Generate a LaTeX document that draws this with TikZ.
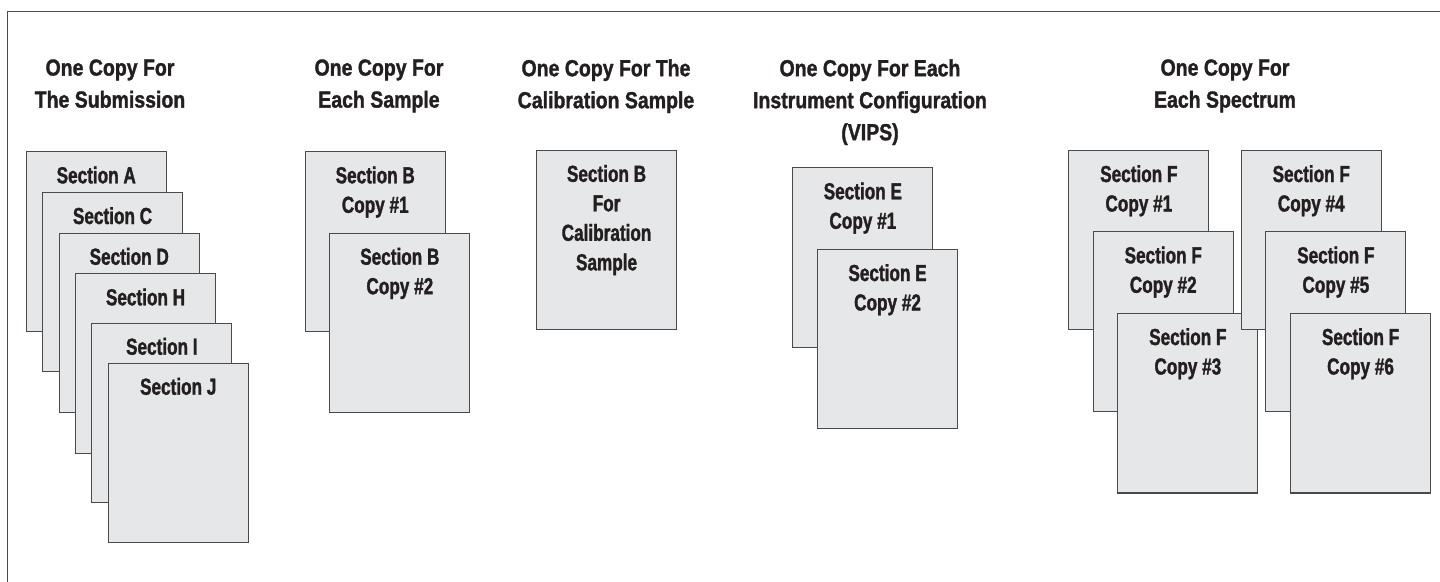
\documentclass[tikz,border=0pt]{standalone}
\usepackage{fontspec}
\usepackage{xcolor}
\usepackage{tikz}
\newfontfamily\pagefont{Liberation Sans}[FakeStretch=0.74, FakeBold=1.4]
\newfontfamily\headfont{Liberation Sans}[FakeStretch=0.84, FakeBold=1.4]
\definecolor{pagefill}{HTML}{E6E7E8}
\definecolor{pageline}{HTML}{4A4A4A}
\definecolor{ink}{HTML}{231F20}
\tikzset{
    page/.style={draw=pageline, fill=pagefill, line width=0.55pt,
                 minimum width=70pt, minimum height=89.7pt,
                 anchor=north west, inner sep=0pt},
    pagetext/.style={anchor=north, inner sep=0pt, yshift=-7.4pt, align=center,
                     text=ink, font=\pagefont\bfseries\fontsize{11.6}{14.75}\selectfont},
    heading/.style={anchor=north, inner sep=0pt, align=center,
                    text=ink, font=\headfont\bfseries\fontsize{11.6}{16}\selectfont},
}

\begin{document}
\begin{tikzpicture}[x=0.5pt, y=-0.5pt]
    \useasboundingbox (0,0) rectangle (1440,582);
    \clip (0,0) rectangle (1440,582);

    % Frame
    \draw[line width=0.7pt, pageline] (7.5,11.5) rectangle (1470,620);

    % Headings
    \node[heading] (h1) at (110,59) {One Copy For\\The Submission};
    \node[heading] (h2) at (379,59) {One Copy For\\Each Sample};
    \node[heading] (h3) at (606,59) {One Copy For The\\Calibration Sample};
    \node[heading] (h4) at (870,59) {One Copy For Each\\Instrument Configuration\\(VIPS)};
    \node[heading] (h5) at (1225,59) {One Copy For\\Each Spectrum};

    % Submission stack
    \foreach \nm/\px/\py/\sec in {sa/25.7/151.3/A, sc/42/192/C, sd/58.7/232.7/D,
                                  sh/75/273.3/H, si/91.3/322.7/I, sj/107.7/362.7/J} {
        \node[page] (\nm) at (\px,\py) {};
        \node[pagetext] (\nm-t) at (\nm.north) {Section \sec};
    }

    % Sample copies
    \foreach \nm/\px/\py/\n in {b1/304.7/151.3/1, b2/329.3/232.7/2} {
        \node[page] (\nm) at (\px,\py) {};
        \node[pagetext] (\nm-t) at (\nm.north) {Section B\\Copy \#\n};
    }

    % Calibration sample
    \node[page] (cal) at (536,149.8) {};
    \node[pagetext] (cal-t) at (cal.north) {Section B\\For\\Calibration\\Sample};

    % Instrument configurations
    \foreach \nm/\px/\py/\n in {e1/792.3/167.3/1, e2/817/249/2} {
        \node[page] (\nm) at (\px,\py) {};
        \node[pagetext] (\nm-t) at (\nm.north) {Section E\\Copy \#\n};
    }

    % Spectra
    \foreach \nm/\px/\py/\n in {f1/1068.3/150/1, f2/1092.7/231.3/2, f3/1117.3/313/3,
                                f4/1240.7/150/4, f5/1265.3/231.3/5, f6/1290/313/6} {
        \node[page] (\nm) at (\px,\py) {};
        \node[pagetext] (\nm-t) at (\nm.north) {Section F\\Copy \#\n};
    }
\end{tikzpicture}
\end{document}
